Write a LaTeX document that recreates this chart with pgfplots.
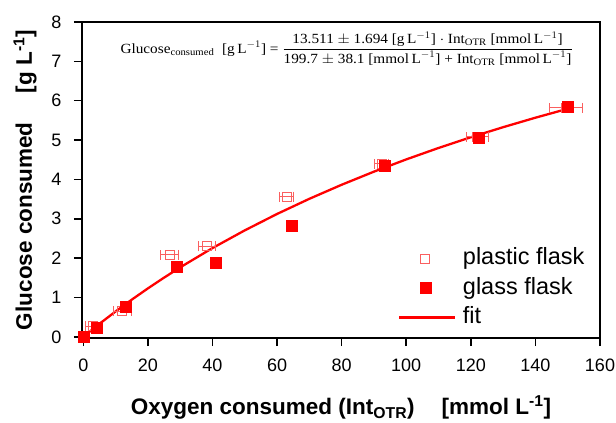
\documentclass[border=0pt]{standalone}
\usepackage{amsmath}
\usepackage{pgfplots}
\pgfplotsset{compat=1.18}
\usepackage{fontspec}
\setmainfont{Liberation Sans}
\newfontfamily\eqfont{Liberation Serif}
\definecolor{lred}{RGB}{250,95,95}
\pgfplotsset{
  marklegend/.style={legend image code/.code={\path[draw=none,fill=none] (-1.95cm,0cm) -- (0cm,0cm); \draw[##1] plot coordinates {(-1.04cm,0cm)};}},
  linelegend/.style={legend image code/.code={\draw[##1] (-1.95cm,0cm) -- (0cm,0cm);}},
}

\pgfplotstableread{
x y ex
0 0 0
3 0.27 2.3
12 0.65 2.8
26.7 2.08 2.8
38.4 2.30 2.6
63 3.56 2.2
92.4 4.40 2.2
122 5.08 3.4
149.5 5.82 5
}\plastic

\pgfplotstableread{
x y
0 0
4 0.22
13 0.77
28.8 1.77
40.9 1.89
64.5 2.83
93.3 4.34
122.5 5.05
150 5.86
}\glass

\pgfplotstableread{
x y
0 0
5 0.330
10 0.644
15 0.944
20 1.230
25 1.503
30 1.765
40 2.255
50 2.705
60 3.122
70 3.507
80 3.864
90 4.197
100 4.508
110 4.799
120 5.071
130 5.327
140 5.568
150 5.795
}\fit

\begin{document}
\begin{tikzpicture}
\begin{axis}[
  name=ax,
  scale only axis,
  width=518pt, height=316pt,
  xmin=-0.4, xmax=160, ymin=-0.03, ymax=8,
  clip=false,
  xtick={0,20,...,160}, ytick={0,1,...,8},
  tick align=outside, xtick pos=bottom, ytick pos=left,
  major tick length=8pt,
  axis line style={line width=1.5pt},
  every tick/.style={line width=1.5pt, black},
  /pgf/number format/assume math mode=true,
  tick label style={font=\fontsize{18}{20}\selectfont},
  xticklabel style={yshift=-9pt},
  yticklabel style={xshift=-9pt},
  xlabel={\textbf{Oxygen consumed (Int\textsubscript{OTR})\hspace{1.2em}[mmol L\textsuperscript{-1}]}},
  ylabel={\textbf{Glucose consumed\hspace{1.3em}[g L\textsuperscript{-1}]}},
  label style={font=\fontsize{22.5}{26}\selectfont},
  xlabel style={yshift=-18pt},
  ylabel style={yshift=8pt},
  legend cell align=left,
  legend style={draw=none, fill=none, font=\fontsize{23.5}{26}\selectfont,
    at={(rel axis cs:0.61,0.29)}, anchor=north west, row sep=5.5pt, column sep=6pt,
    inner sep=0pt, nodes={inner sep=1pt, text height=17pt, text depth=5pt}},
]
\addplot[red, line width=2.3pt, forget plot] table {\fit};
\addplot[only marks, mark=square, mark size=4.5pt, lred, mark options={line width=0.9pt}, marklegend,
  error bars/.cd, x dir=both, x explicit, error mark=|,
  error bar style={line width=1pt, lred}, error mark options={mark size=5pt, line width=1pt, lred}]
  table[x=x, y=y, x error=ex] {\plastic};
\addlegendentry{plastic flask}
\addplot[only marks, mark=square*, mark size=5.5pt, red, fill=red, marklegend] table {\glass};
\addlegendentry{glass flask}
\addlegendimage{red, line width=2.3pt, linelegend}
\addlegendentry{fit}
\node[font=\eqfont\fontsize{14}{16}\selectfont] at (rel axis cs:0.511,0.916)
  {\scalebox{1.09}[1]{Glucose\textsubscript{consumed}\ \ [g\,L$^{-1}$] = $\dfrac{\text{13.511 $\pm$ 1.694 [g\,L$^{-1}$] $\cdot$ Int\textsubscript{OTR} [mmol\,L$^{-1}$]}}{\text{199.7 $\pm$ 38.1 [mmol\,L$^{-1}$] + Int\textsubscript{OTR} [mmol\,L$^{-1}$]}}$}};
\end{axis}
\pgfresetboundingbox
\path ([shift={(-82pt,-85pt)}]ax.south west) rectangle ([shift={(16pt,22pt)}]ax.north east);
\end{tikzpicture}
\end{document}
